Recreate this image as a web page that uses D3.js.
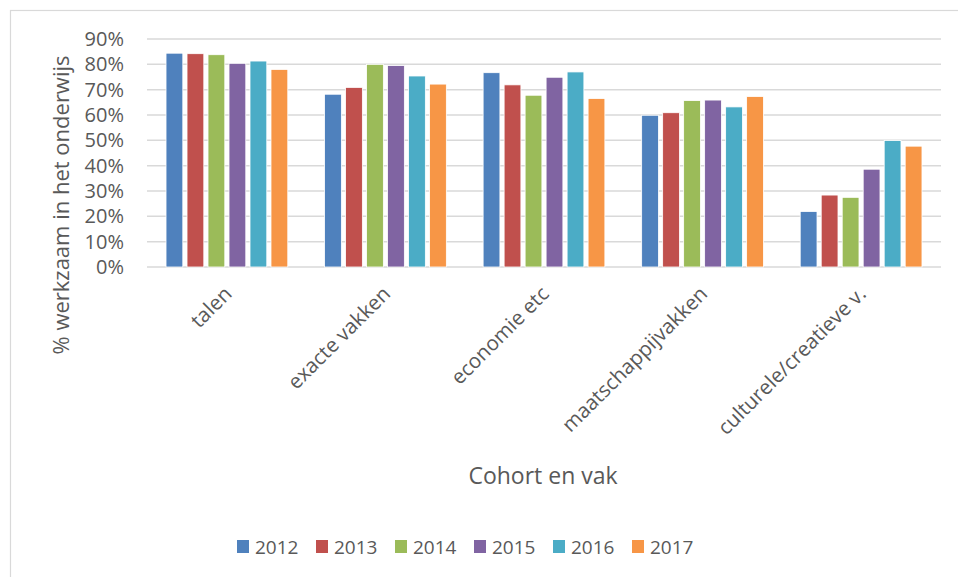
<!DOCTYPE html>
<html>
<head>
<meta charset="utf-8">
<script src="https://cdn.jsdelivr.net/npm/d3@7"></script>
<style>
  body { margin: 0; background: #fff; }
  text { font-family: "Open Sans", "Noto Sans", sans-serif; fill: #595959; }
</style>
</head>
<body>
<div id="chart"></div>
<script>
// data
var categories = ["talen", "exacte vakken", "economie etc", "maatschappijvakken", "culturele/creatieve v."];
var years = ["2012", "2013", "2014", "2015", "2016", "2017"];
var values2012 = [0.844, 0.682, 0.767, 0.599, 0.219];
var values2013 = [0.842, 0.709, 0.719, 0.609, 0.284];
var values2014 = [0.838, 0.800, 0.678, 0.657, 0.275];
var values2015 = [0.804, 0.795, 0.749, 0.659, 0.386];
var values2016 = [0.813, 0.754, 0.770, 0.632, 0.499];
var values2017 = [0.780, 0.722, 0.665, 0.673, 0.477];
var yTicks = [0, 0.1, 0.2, 0.3, 0.4, 0.5, 0.6, 0.7, 0.8, 0.9];
var colors = ["#4F81BD", "#C0504D", "#9BBB59", "#8064A2", "#4BACC6", "#F79646"];

var series = [values2012, values2013, values2014, values2015, values2016, values2017];

var svgWidth = 958
var svgHeight = 577

var plot = { left: 147, right: 941, top: 39, bottom: 267 };

var svg = d3.select("#chart")
  .append("svg")
  .attr("width", svgWidth)
  .attr("height", svgHeight);

// chart frame
svg.append("rect")
  .attr("x", 10.5).attr("y", 10.5)
  .attr("width", 960).attr("height", 600)
  .attr("fill", "none")
  .attr("stroke", "#D9D9D9")
  .attr("stroke-width", 1.2);

// scales
var x0 = d3.scaleBand()
  .domain(categories)
  .range([plot.left, plot.right])
  .paddingInner(0.232)
  .paddingOuter(0.12);

var x1 = d3.scaleBand()
  .domain(years)
  .range([0, x0.bandwidth()])
  .paddingInner(0.2);

var y = d3.scaleLinear()
  .domain([0, 0.9])
  .range([plot.bottom, plot.top]);

// gridlines
svg.append("g")
  .selectAll("line")
  .data(yTicks)
  .enter()
  .append("line")
  .attr("x1", plot.left)
  .attr("x2", plot.right)
  .attr("y1", d => y(d))
  .attr("y2", d => y(d))
  .attr("stroke", "#D9D9D9")
  .attr("stroke-width", 1.5);

// y axis labels
var leftAxis = d3.axisLeft(y)
  .tickValues(yTicks)
  .tickFormat(d3.format(".0%"))
  .tickSize(0)
  .tickPadding(23);

var yAxisG = svg.append("g")
  .attr("transform", `translate(${plot.left}, 0)`)
  .call(leftAxis);
yAxisG.select(".domain").remove();
yAxisG.selectAll("text")
  .attr("font-size", 20)
  .attr("font-family", "Open Sans")
  .attr("fill", "#595959");

// bars
var groups = svg.append("g")
  .selectAll("g")
  .data(categories)
  .enter()
  .append("g")
  .attr("transform", d => `translate(${x0(d)}, 0)`);

groups.selectAll("rect")
  .data((c, ci) => years.map((yr, si) => ({ year: yr, value: series[si][ci], color: colors[si] })))
  .enter()
  .append("rect")
  .attr("x", d => x1(d.year))
  .attr("y", d => y(d.value))
  .attr("width", x1.bandwidth())
  .attr("height", d => y(0) - y(d.value))
  .attr("fill", d => d.color)
  .attr("stroke", "#fff")
  .attr("stroke-width", 0.8);

// category labels, rotated
svg.append("g")
  .selectAll("text")
  .data(categories)
  .enter()
  .append("text")
  .attr("transform", d => `translate(${x0(d) + x0.bandwidth() / 2 - 4}, 285) rotate(-45)`)
  .attr("text-anchor", "end")
  .attr("dy", "0.7em")
  .attr("font-size", 20.5)
  .text(d => d);

// axis titles
svg.append("text")
  .attr("transform", `translate(69, 205) rotate(-90)`)
  .attr("text-anchor", "middle")
  .attr("font-size", 22)
  .text("% werkzaam in het onderwijs");

svg.append("text")
  .attr("x", 543)
  .attr("y", 484)
  .attr("text-anchor", "middle")
  .attr("font-size", 23)
  .text("Cohort en vak");

// legend
var legend = svg.append("g")
  .selectAll("g")
  .data(years)
  .enter()
  .append("g")
  .attr("transform", (d, i) => `translate(${237 + i * 79}, 540)`);

legend.append("rect")
  .attr("width", 12)
  .attr("height", 13)
  .attr("fill", (d, i) => colors[i]);

legend.append("text")
  .attr("x", 18)
  .attr("y", 14)
  .attr("font-size", 19)
  .text(d => d);
</script>
</body>
</html>
